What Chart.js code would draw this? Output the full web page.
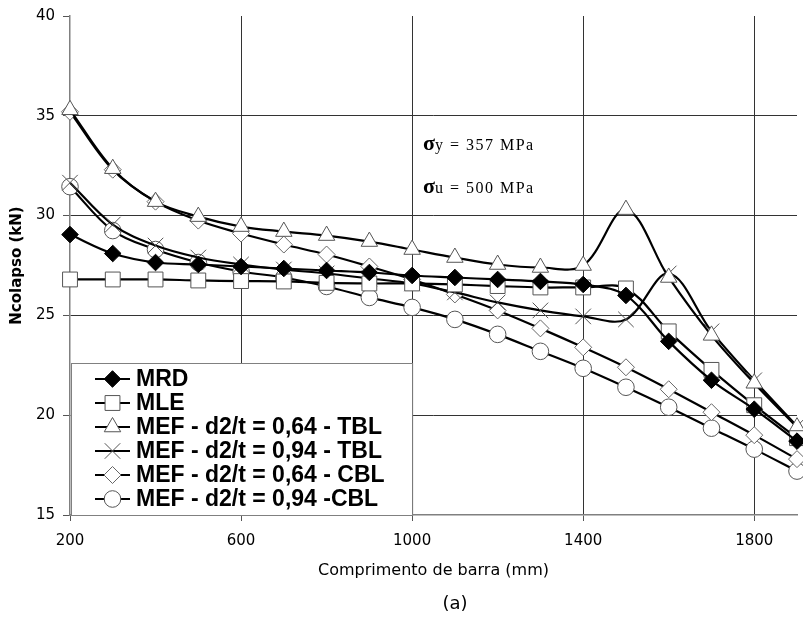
<!DOCTYPE html>
<html><head><meta charset="utf-8">
<script src="https://cdn.jsdelivr.net/npm/chart.js@4/dist/chart.umd.min.js"></script>
<style>html,body{margin:0;padding:0;background:#fff}#wrap{width:803px;height:619px;position:relative}</style>
</head><body><div id="wrap"><canvas id="c"></canvas></div>
<script>
// ---- data ----
const lengths = [200,300,400,500,600,700,800,900,1000,1100,1200,1300,1400,1500,1600,1700,1800,1900];
const mrd    = [29.05,28.1,27.65,27.55,27.45,27.35,27.25,27.15,27.0,26.9,26.8,26.7,26.55,26.0,23.7,21.75,20.3,18.7];
const mle    = [26.8,26.8,26.8,26.75,26.72,26.7,26.63,26.6,26.6,26.55,26.47,26.4,26.4,26.35,24.2,22.27,20.5,18.85];
const tbl064 = [35.3,32.35,30.7,29.95,29.45,29.2,29.0,28.7,28.3,27.9,27.55,27.4,27.5,30.3,26.9,24.0,21.6,19.4];
const tbl094 = [31.65,29.55,28.5,27.9,27.55,27.3,27.1,26.85,26.6,26.15,25.65,25.25,24.95,24.8,27.1,24.2,21.75,19.45];
const cbl064 = [35.2,32.3,30.7,29.75,29.1,28.55,28.05,27.45,26.8,26.05,25.25,24.35,23.4,22.4,21.3,20.15,19.0,17.8];
const cbl094 = [31.45,29.25,28.3,27.65,27.2,26.9,26.45,25.9,25.4,24.8,24.05,23.2,22.35,21.4,20.4,19.35,18.3,17.2];
const seriesLabels = ['MRD','MLE','MEF - d2/t = 0,64 - TBL','MEF - d2/t = 0,94 - TBL','MEF - d2/t = 0,64 - CBL','MEF - d2/t = 0,94 -CBL'];
const xTickValues = [200,600,1000,1400,1800];
const yTickValues = [15,20,25,30,35,40];
const xTitle = 'Comprimento de barra (mm)';
const yTitle = 'Ncolapso (kN)';
const noteLines = [['σ','y = 357 MPa'],['σ','u = 500 MPa']];
const caption = '(a)';

const series = [mrd, mle, tbl064, tbl094, cbl064, cbl094];
const styles = [
  {pointStyle:'rectRot', pointRadius:8.3, pointBackgroundColor:'#000', pointBorderColor:'#000'},
  {pointStyle:'rect', pointRadius:10.5, pointBackgroundColor:'#fff', pointBorderColor:'#555'},
  {pointStyle:'triangle', pointRadius:9.5, pointBackgroundColor:'#fff', pointBorderColor:'#555'},
  {pointStyle:'crossRot', pointRadius:11, pointBackgroundColor:'#fff', pointBorderColor:'#555'},
  {pointStyle:'rectRot', pointRadius:8.5, pointBackgroundColor:'#fff', pointBorderColor:'#666'},
  {pointStyle:'circle', pointRadius:8.3, pointBackgroundColor:'#fff', pointBorderColor:'#555'}
];

const datasets = series.map((arr, i) => Object.assign({
  label: seriesLabels[i],
  data: lengths.map((x, j) => ({x: x, y: arr[j]})),
  borderColor: '#000', borderWidth: 2.2, tension: 0.35, pointBorderWidth: 1, clip: false
}, styles[i]));

function drawMarker(ctx, st, x, y) {
  ctx.save();
  ctx.fillStyle = st.pointBackgroundColor;
  ctx.strokeStyle = st.pointBorderColor;
  ctx.lineWidth = 1;
  if (Chart.helpers && Chart.helpers.drawPoint) {
    Chart.helpers.drawPoint(ctx, {pointStyle: st.pointStyle, radius: st.pointRadius, rotation: 0, borderWidth: 1}, x, y);
  }
  ctx.restore();
}

const overlay = {
  id: 'overlay',
  afterDraw(chart) {
    const ctx = chart.ctx;
    const xs = chart.scales.x, ys = chart.scales.y;
    // legend box
    const bx = xs.left + 1, by = 363, bw = xs.getPixelForValue(1000) - bx, bh = ys.bottom - by;
    ctx.save();
    ctx.fillStyle = '#fff';
    ctx.fillRect(bx, by, bw, bh);
    ctx.strokeStyle = '#808080'; ctx.lineWidth = 1;
    ctx.strokeRect(bx + 0.5, by + 0.5, bw, bh);
    ctx.font = 'bold 23px "Liberation Sans", Arial, sans-serif';
    ctx.textBaseline = 'middle'; ctx.fillStyle = '#000';
    seriesLabels.forEach((lab, i) => {
      const y = 379 + i * 24;
      ctx.strokeStyle = '#000'; ctx.lineWidth = 2;
      ctx.beginPath(); ctx.moveTo(95, y); ctx.lineTo(130, y); ctx.stroke();
      drawMarker(ctx, styles[i], 112.5, y);
      ctx.fillStyle = '#000';
      ctx.fillText(lab, 136, y + 1);
    });
    // notes
    const nx = 423;
    noteLines.forEach((pair, i) => {
      const base = 150 + i * 43;
      ctx.font = 'bold 22px "Liberation Serif", serif';
      ctx.textBaseline = 'alphabetic';
      ctx.fillText(pair[0], nx, base);
      const w = ctx.measureText(pair[0]).width;
      ctx.font = '16px "Liberation Serif", serif';
      try { ctx.letterSpacing = '1.5px'; } catch (e) {}
      ctx.fillText(pair[1], nx + w, base);
      try { ctx.letterSpacing = '0px'; } catch (e) {}
    });
    // caption
    ctx.font = '18px "DejaVu Sans", sans-serif';
    ctx.textAlign = 'center'; ctx.textBaseline = 'middle';
    ctx.fillText(caption, 455, 604);
    ctx.restore();
  }
};

new Chart(document.getElementById('c'), {
  type: 'line',
  data: {datasets: datasets},
  plugins: [overlay],
  options: {
    responsive: true, maintainAspectRatio: false, animation: false,
    layout: {autoPadding: false, padding: {top: 16, right: 6, left: 0, bottom: 0}},
    plugins: {legend: {display: false}, tooltip: {enabled: false}},
    scales: {
      x: {
        type: 'linear', min: 200, max: 1900,
        afterBuildTicks: s => { s.ticks = xTickValues.map(v => ({value: v})); },
        afterFit: s => { s.height = 104; s.paddingRight = 0; s.paddingLeft = 0; },
        grid: {color: c => (c.tick && c.tick.value === 200) ? 'rgba(0,0,0,0)' : '#333', tickColor: '#555', tickLength: 6, lineWidth: 1},
        border: {color: '#808080', width: 1.5},
        ticks: {font: {family: '"DejaVu Sans", sans-serif', size: 15}, color: '#000', padding: 11, maxRotation: 0, autoSkip: false,
                callback: v => String(v)},
        title: {display: true, text: xTitle, font: {family: '"DejaVu Sans", sans-serif', size: 16}, color: '#000', padding: {top: 0, bottom: 39}}
      },
      y: {
        type: 'linear', min: 15, max: 40,
        afterBuildTicks: s => { s.ticks = yTickValues.map(v => ({value: v})); },
        afterFit: s => { s.width = 70; s.paddingTop = 0; s.paddingBottom = 0; },
        grid: {color: c => (c.tick && (c.tick.value === 40 || c.tick.value === 15)) ? 'rgba(0,0,0,0)' : '#333', tickColor: '#555', tickLength: 7, lineWidth: 1},
        border: {color: '#808080', width: 1.5},
        ticks: {font: {family: '"DejaVu Sans", sans-serif', size: 15}, color: '#000', padding: 8, callback: v => String(v)},
        title: {display: true, text: yTitle, font: {family: '"DejaVu Sans", sans-serif', size: 15, weight: 'bold'}, color: '#000', padding: {top: 8.5, bottom: 0}}
      }
    }
  }
});
</script>
</body></html>
